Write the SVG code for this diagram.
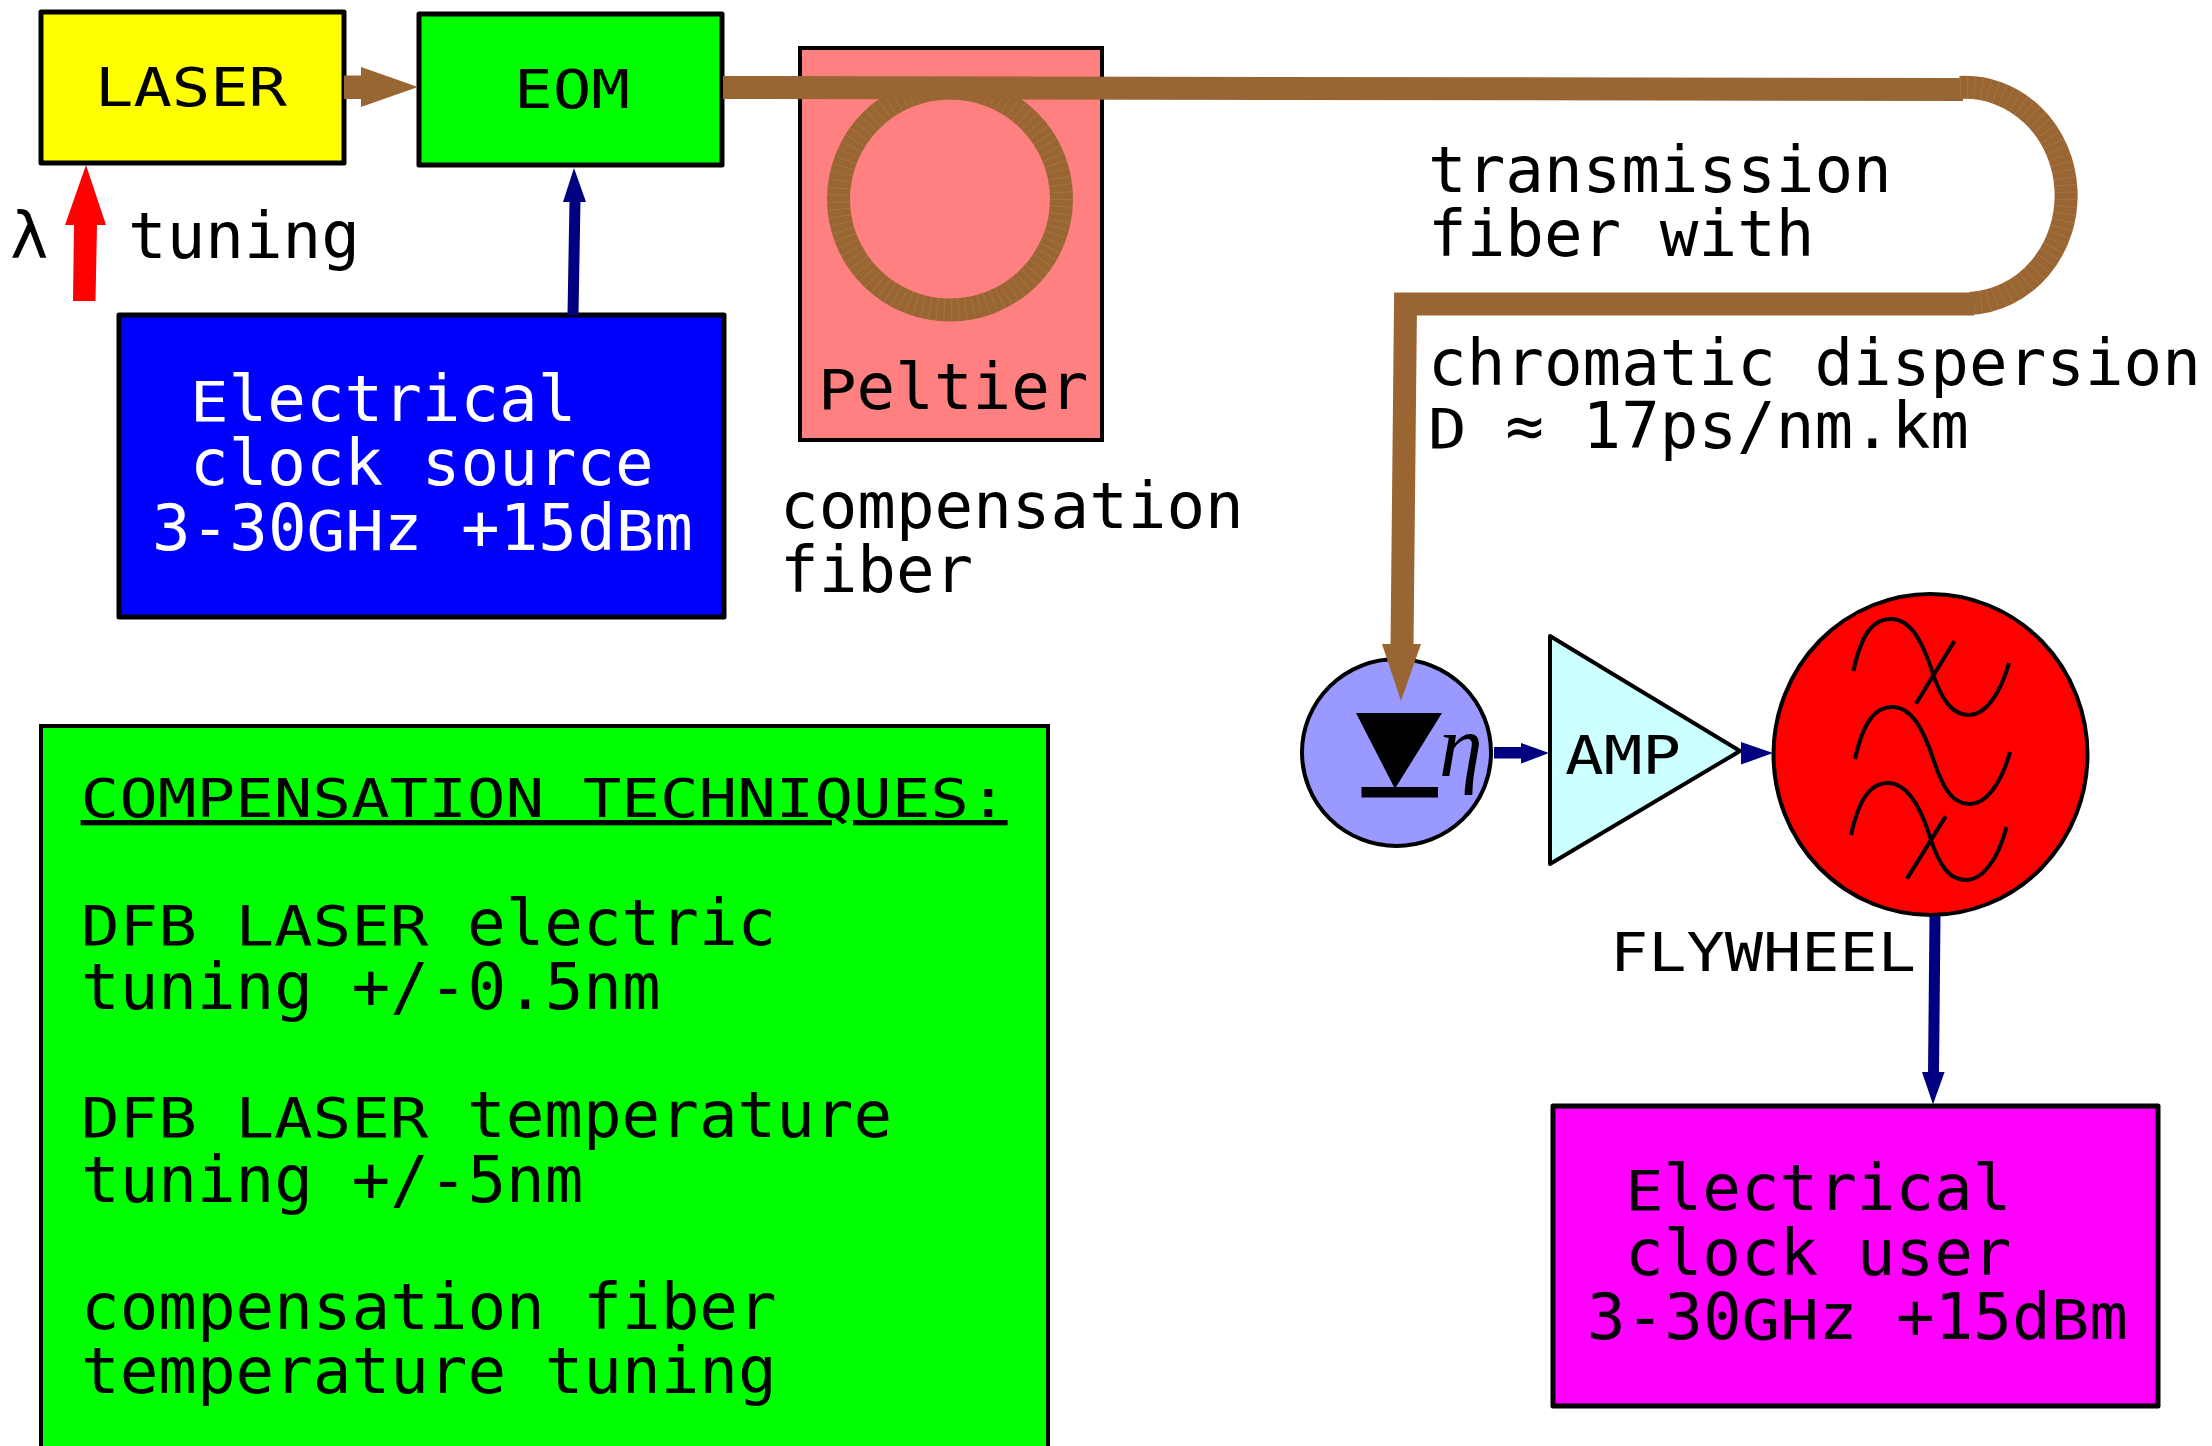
<svg xmlns="http://www.w3.org/2000/svg" width="2212" height="1446" viewBox="0 0 2212 1446">
<style>
text{font-family:"DejaVu Sans Mono","Liberation Mono",monospace;font-size:64.2px;fill:#000}
.c{font-size:53px}
.m{font-size:55px}
.w{fill:#fff}
.box{stroke:#000;stroke-width:5;stroke-linejoin:round}
.thin{stroke:#000;stroke-width:4}
.fiber{fill:none;stroke:#996633;stroke-width:23}
.hair{fill:none;stroke:#c79a6a;stroke-width:23;stroke-dasharray:.7 6.5;opacity:.35}
.brown{fill:#996633}
.navy{fill:#000080}
.navyl{fill:none;stroke:#000080;stroke-width:11}
.wave{fill:none;stroke:#000;stroke-width:4}
</style>
<rect width="2212" height="1446" fill="#fff"/>
<g id="laser">
<rect class="box" x="41" y="12" width="303" height="151" fill="#ffff00"/>
<text class="c" x="95" y="106" textLength="192" lengthAdjust="spacingAndGlyphs">LASER</text>
</g>
<g id="eom">
<rect class="box" x="419" y="14" width="303" height="151" fill="#00ff00"/>
<text class="c" x="514" y="108" textLength="116" lengthAdjust="spacingAndGlyphs">EOM</text>
</g>
<g id="tuning">
<text x="10" y="258">λ</text>
<text x="128" y="258">tuning</text>
</g>
<g id="clock-source">
<rect class="box" x="119" y="315" width="605" height="302" fill="#0000ff"/>
<text class="w"><tspan x="190" y="420.5"><tspan class="m" textLength="38.6" lengthAdjust="spacingAndGlyphs">E</tspan>lectrical</tspan><tspan x="190" y="485">clock source</tspan><tspan x="152" y="549.5">3-30<tspan class="m" textLength="77.2" lengthAdjust="spacingAndGlyphs">GH</tspan>z +15d<tspan class="m" textLength="38.6" lengthAdjust="spacingAndGlyphs">B</tspan>m</tspan></text>
</g>
<g id="peltier">
<rect class="thin" x="800" y="48" width="302" height="392" fill="#ff8080"/>
<text x="818" y="408.5"><tspan class="m" textLength="38.6" lengthAdjust="spacingAndGlyphs">P</tspan>eltier</text>
</g>
<g id="compensation-label">
<text><tspan x="780" y="527.5">compensation</tspan><tspan x="780" y="592">fiber</tspan></text>
</g>
<g id="transmission-label">
<text><tspan x="1428" y="191.5">transmission</tspan><tspan x="1428" y="255.5">fiber with</tspan></text>
<text><tspan x="1428" y="384.5">chromatic dispersion</tspan><tspan x="1428" y="448"><tspan class="m" textLength="38.6" lengthAdjust="spacingAndGlyphs">D</tspan> ≈ 17ps/nm.km</tspan></text>
</g>
<g id="photodiode">
<ellipse class="thin" cx="1396.5" cy="752.5" rx="94.5" ry="93.5" fill="#9999ff"/>
<polygon points="1356,713 1442,713 1396,787 1394,787"/>
<rect x="1361.5" y="787" width="76.5" height="10.5"/>
<text x="1439" y="776" style="font-family:'Liberation Serif',serif;font-style:italic;font-size:88px">η</text>
</g>
<g id="amp">
<polygon class="thin" points="1550,636 1550,864 1740,751" fill="#ccffff" stroke-linejoin="round"/>
<text class="c" x="1565" y="773.5" textLength="116" lengthAdjust="spacingAndGlyphs">AMP</text>
</g>
<g id="flywheel">
<ellipse class="thin" cx="1930.5" cy="754.5" rx="157" ry="160.5" fill="#ff0000"/>
<path class="wave" d="M1853.5 671C1862 630 1875 619 1891 619C1910 619 1922 640 1932 671C1942 702 1953 715 1969 715C1985 715 2000 695 2009 663M1954.5 641L1916 703.6"/>
<path class="wave" d="M1855 759C1864 718 1877 707 1892.5 707C1911 707 1923 728 1933.6 760C1944 792 1954 804 1970 804C1986 804 2001 784 2010 752"/>
<path class="wave" d="M1851 835C1860 794 1873 783 1888 783C1907 783 1920 805 1930 837C1940 868 1950 880 1966.5 880C1982 880 1998 860 2006.5 827M1945.7 816.4L1907 878.6"/>
<text class="c" x="1610" y="970.5" textLength="306" lengthAdjust="spacingAndGlyphs">FLYWHEEL</text>
</g>
<g id="clock-user">
<rect class="box" x="1553" y="1106" width="605" height="300" fill="#ff00ff"/>
<text><tspan x="1625" y="1210"><tspan class="m" textLength="38.6" lengthAdjust="spacingAndGlyphs">E</tspan>lectrical</tspan><tspan x="1625" y="1274.5">clock user</tspan><tspan x="1587" y="1338.5">3-30<tspan class="m" textLength="77.2" lengthAdjust="spacingAndGlyphs">GH</tspan>z +15d<tspan class="m" textLength="38.6" lengthAdjust="spacingAndGlyphs">B</tspan>m</tspan></text>
</g>
<g id="techniques">
<rect class="thin" x="41" y="726" width="1007" height="730" fill="#00ff00"/>
<text class="c" x="80.6" y="817" textLength="927" lengthAdjust="spacingAndGlyphs" text-decoration="underline">COMPENSATION TECHNIQUES:</text>
<text><tspan x="81" y="944.5"><tspan class="m" textLength="347.4" lengthAdjust="spacingAndGlyphs">DFB LASER</tspan> electric</tspan><tspan x="81" y="1009">tuning +/-0.5nm</tspan></text>
<text><tspan x="81" y="1137"><tspan class="m" textLength="347.4" lengthAdjust="spacingAndGlyphs">DFB LASER</tspan> temperature</tspan><tspan x="81" y="1201.5">tuning +/-5nm</tspan></text>
<text><tspan x="81" y="1329">compensation fiber</tspan><tspan x="81" y="1393">temperature tuning</tspan></text>
</g>
<g id="connectors">
<ellipse class="fiber" cx="950" cy="199" rx="111.5" ry="111"/>
<ellipse class="hair" cx="950" cy="199" rx="111.5" ry="111"/>
<path class="fiber" d="M723 87.5L1963 89.5"/>
<path class="fiber" d="M1960 87.5A101 108 0 0 1 1970 303.5"/>
<path class="hair" d="M1960 87.5A101 108 0 0 1 1970 303.5"/>
<path class="fiber" d="M1974 304H1405.5L1402 646" stroke-linejoin="miter"/>
<polygon class="brown" points="1382,644 1421,644 1401,701"/>
<polygon class="brown" points="344,75.5 361,75.5 361,67 418,87 361,107 361,99 344,99"/>
<polygon points="74,225 65,225 86,165 106,225 97,225 95.5,301 73,301" fill="#ff0000"/>
<path class="navyl" d="M573 315L575 200"/>
<polygon class="navy" points="563,202 586,202 574,168"/>
<polygon class="navy" points="1494,747 1521,747 1521,743 1549,753 1521,763.6 1521,758.5 1494,758.5"/>
<polygon class="navy" points="1741,742 1773,753 1741,764.6"/>
<path class="navyl" d="M1935 916L1933.5 1074"/>
<polygon class="navy" points="1922,1072 1944.6,1072 1933,1104.6"/>
</g>
</svg>
